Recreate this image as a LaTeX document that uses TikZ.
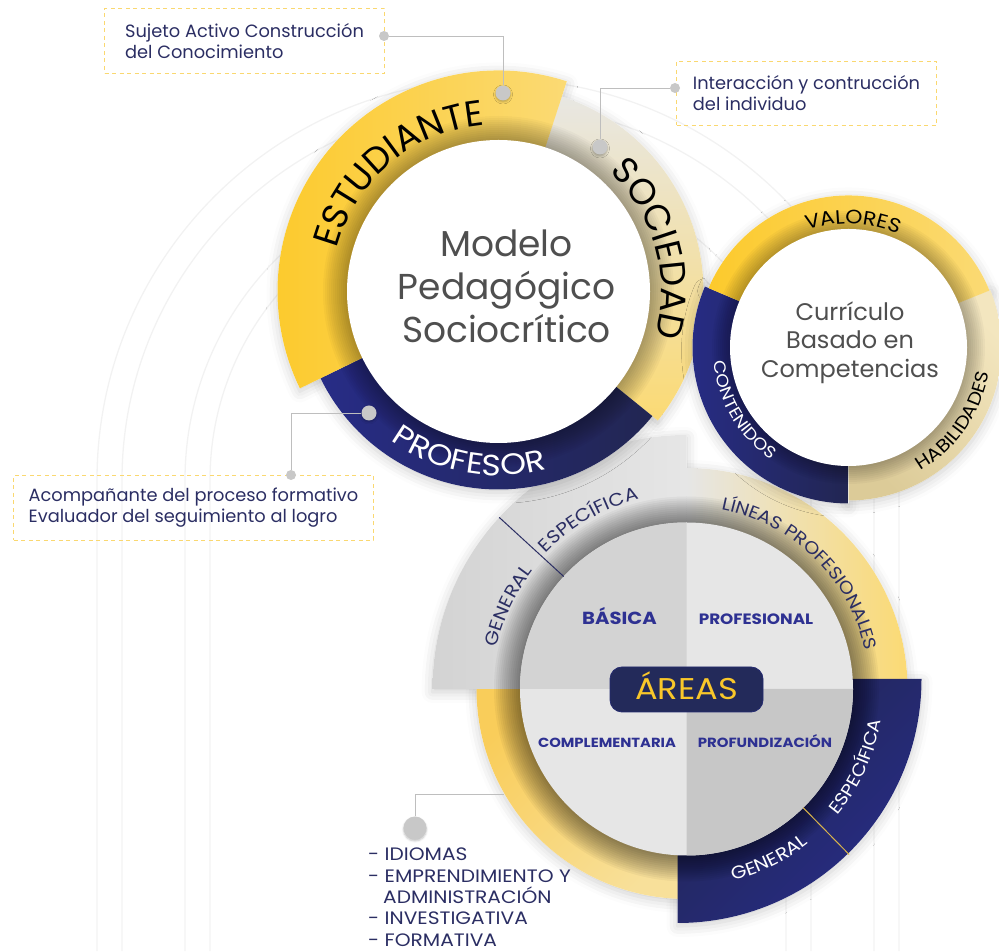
\documentclass[tikz,border=0pt]{standalone}
\usepackage{fontspec}
\setmainfont{Poppins}
\newfontfamily\capsfont{Poppins}[FakeStretch=1.12]
\usetikzlibrary{math}
\usetikzlibrary{positioning}
\usetikzlibrary{decorations.text}
\usetikzlibrary{shadows.blur}

\definecolor{amarillo}{HTML}{FCCA2C}
\definecolor{amarilloclaro}{HTML}{FBDA74}
\definecolor{amarillomedio}{HTML}{F9CD5A}
\definecolor{amarillopalido}{HTML}{F8E09A}
\definecolor{azul}{HTML}{272C86}
\definecolor{azuloscuro}{HTML}{222652}
\definecolor{cajaareas}{HTML}{232A5A}
\definecolor{grisclaro}{HTML}{E6E6E6}
\definecolor{grisanillo}{HTML}{E8E7E3}
\definecolor{grismedio}{HTML}{D3D3D3}
\definecolor{grisoscuro}{HTML}{C7C7C7}
\definecolor{beige}{HTML}{F3E6BF}
\definecolor{beigeoscuro}{HTML}{DCCB98}
\definecolor{tinta}{HTML}{2B2E63}
\definecolor{tintagris}{HTML}{4F4F4F}
\definecolor{etiqueta}{HTML}{2E3192}
\definecolor{oro}{HTML}{F9C72A}
\definecolor{lineaoro}{HTML}{D9B44A}
\definecolor{borde}{HTML}{FAD870}
\definecolor{linea}{HTML}{BEBEBE}
\definecolor{punto}{HTML}{C8C8C8}
\definecolor{marca}{HTML}{F2F2F2}

\tikzset{
  ringpart/.style n args={5}{insert path={([shift={(#2:#5)}]#1) arc[start angle=#2, end angle=#3, radius=#5] -- ([shift={(#3:#4)}]#1) arc[start angle=#3, end angle=#2, radius=#4] -- cycle}},
  textarc/.style n args={4}{insert path={([shift={(#2:#4)}]#1) arc[start angle=#2, end angle=#3, radius=#4]}},
  ringlabel/.style n args={3}{decorate, decoration={text along path, text align=center, text color=#2, text={|\fontsize{#1}{#1}\selectfont|#3}}},
  capslabel/.style n args={3}{decorate, decoration={text along path, text align=center, text color=#2, text={|\capsfont\fontsize{#1}{#1}\selectfont|#3}}},
  halo/.style={fill=white, blur shadow={shadow xshift=0pt, shadow yshift=-3pt, shadow blur radius=11pt, shadow opacity=20}},
  watermark/.style={draw=marca, line width=1.3pt},
  calloutbox/.style={draw=borde, dash pattern=on 4pt off 3.5pt, line width=1pt, align=left, text=tinta, font=\fontsize{17.8}{21}\selectfont, inner sep=0pt},
  smalldot/.style={circle, fill=punto, inner sep=0pt, minimum size=10pt},
  bigdot/.style={circle, fill=punto, inner sep=0pt, minimum size=15pt, blur shadow={shadow xshift=0pt, shadow yshift=-1.5pt, shadow blur radius=2pt, shadow opacity=25}},
  leader/.style={draw=linea, line width=0.9pt},
  quadlabel/.style={text=etiqueta, anchor=base},
}

\begin{document}
\begin{tikzpicture}[x=1pt, y=1pt]
	\tikzmath{\H=951;
	\mcx=498.5; \mcy=\H-291.5;
	\ccx=848.5; \ccy=\H-347.5;
	\acx=686.5; \acy=\H-689;
	\anx=677.5; \any=\H-679;
	\wmy=\H-480;}
	\useasboundingbox (0,0) rectangle (999,\H);
	\coordinate (mc) at (\mcx,\mcy);
	\coordinate (cc) at (\ccx,\ccy);
	\coordinate (ac) at (\acx,\acy);
	\coordinate (an) at (\anx,\any);

	\draw[watermark] (97,0) -- (97,\wmy) arc[start angle=180, end angle=0, radius=401] -- (899,0);
	\draw[watermark] (122,0) -- (122,\wmy) arc[start angle=180, end angle=0, radius=376] -- (874,0);
	\draw[watermark] (185,0) -- (185,\wmy) arc[start angle=180, end angle=0, radius=313] -- (811,0);
	\draw[watermark] (210,0) -- (210,\wmy) arc[start angle=180, end angle=0, radius=288] -- (786,0);

	\path[halo, ringpart={ac}{0}{90}{160}{221}];
	\path[halo, ringpart={ac}{180}{270}{160}{210}];
	\path[halo, ringpart={ac}{90}{180}{160}{254}];
	\path[halo, ringpart={an}{270}{360}{150}{244}];
	\path[left color=grisclaro, right color=amarilloclaro, ringpart={ac}{0}{90}{160}{221}];
	\path[top color=amarillomedio, bottom color=amarillopalido, shading angle=45, ringpart={ac}{180}{270}{160}{210}];
	\path[left color=grismedio, right color=grisclaro, ringpart={ac}{90}{180}{160}{254}];
	\path[top color=azuloscuro, bottom color=azul, shading angle=45, ringpart={an}{270}{360}{150}{244}];
	\foreach \k in {1,...,13} {\fill[black, opacity=0.04] (ac) circle[radius=166.5+2*\k];}
	\node[circle, minimum size=333, inner sep=0pt, fill=grisclaro] (areasdisk) at (ac) {};
	\fill[grismedio] (ac) -- ++(90:166.5) arc[start angle=90, end angle=180, radius=166.5] -- cycle;
	\fill[grisoscuro] (ac) -- ++(270:166.5) arc[start angle=270, end angle=360, radius=166.5] -- cycle;
	\draw[tinta, line width=1pt] ([shift={(137.5:166.5)}]ac) -- ([shift={(137.5:254)}]ac);
	\draw[lineaoro, line width=1pt] ([shift={(-45.5:166.5)}]ac) -- ([shift={(-45.5:232)}]ac);

	\node[quadlabel, font=\capsfont\bfseries\fontsize{17.5}{17.5}\selectfont] (basica) at (619.5, \H-625) {BÁSICA};
	\node[quadlabel, font=\capsfont\bfseries\fontsize{15}{15}\selectfont] (profesional) at (756, \H-625) {PROFESIONAL};
	\node[quadlabel, font=\capsfont\bfseries\fontsize{13.2}{13.2}\selectfont] (complementaria) at (607, \H-748) {COMPLEMENTARIA};
	\node[quadlabel, font=\capsfont\bfseries\fontsize{13.3}{13.3}\selectfont] (profundizacion) at (765, \H-748) {PROFUNDIZACIÓN};
	\node[fill=cajaareas, draw=azul!50!cajaareas, line width=0.8pt, rounded corners=12pt, minimum width=153, minimum height=45, text height=21, text depth=0, text=oro, font=\capsfont\fontsize{30}{30}\selectfont] (areas) at (686.5, \H-689.5) {ÁREAS};

	\path[halo, ringpart={mc}{-39}{72}{151}{205}];
	\path[halo, ringpart={mc}{206}{321}{151}{198}];
	\path[halo, ringpart={mc}{72}{206}{151}{221}];
	\path[top color=grisanillo, bottom color=amarilloclaro, ringpart={mc}{-39}{72}{151}{205}];
	\path[left color=azul, right color=azuloscuro, ringpart={mc}{206}{321}{151}{198}];
	\path[left color=amarillo, right color=amarilloclaro, ringpart={mc}{72}{206}{151}{221}];
	\foreach \k in {1,...,12} {\fill[black, opacity=0.028] (mc) circle[radius=151.5+2*\k];}
	\node[circle, minimum size=303, inner sep=0pt, fill=white] (modelo) at (mc) {};
	\node[text=tintagris, align=center, font=\fontsize{36}{43}\selectfont] (modelotxt) at ([xshift=8, yshift=5]mc) {Modelo\\Pedagógico\\Sociocrítico};

	\path[halo, ringpart={cc}{-90}{22}{118}{153}];
	\path[halo, ringpart={cc}{157}{270}{118}{156}];
	\path[halo, ringpart={cc}{22}{157}{118}{152}];
	\path[top color=beige, bottom color=beigeoscuro, shading angle=-45, ringpart={cc}{-90}{22}{118}{153}];
	\path[left color=azul, right color=azuloscuro, ringpart={cc}{157}{270}{118}{156}];
	\path[left color=amarillo, right color=amarilloclaro, ringpart={cc}{22}{157}{118}{152}];
	\foreach \k in {1,...,9} {\fill[black, opacity=0.03] (cc) circle[radius=118.5+2*\k];}
	\node[circle, minimum size=237, inner sep=0pt, fill=white] (curriculo) at (cc) {};
	\node[text=tintagris, align=center, font=\fontsize{24}{28.5}\selectfont] (curriculotxt) at ([xshift=1.5, yshift=5]cc) {Currículo\\Basado en\\Competencias};

	\path[ringlabel={36}{black}{ESTUDIANTE}, textarc={mc}{195}{65}{167}];
	\path[ringlabel={36}{black}{SOCIEDAD}, textarc={mc}{75}{-44}{163}];
	\path[capslabel={29.5}{white}{PROFESOR}, textarc={mc}{199.6}{319.6}{184}];
	\path[capslabel={19.5}{black}{{VA}LORES}, textarc={cc}{148}{28}{124}];
	\path[capslabel={18}{black}{HABILIDADES}, textarc={cc}{-95}{25}{143}];
	\path[capslabel={16.5}{white}{CONTENIDOS}, textarc={cc}{150.7}{270.7}{136}];
	\path[capslabel={18}{tinta}{ESPECÍFICA}, textarc={ac}{165}{75}{195.5}];
	\path[capslabel={18}{tinta}{GENERAL}, textarc={ac}{185}{125}{194}];
	\path[capslabel={17.5}{tinta}{LÍNEAS PROFESIONALES}, textarc={ac}{105}{-14}{183}];
	\path[capslabel={17.5}{white}{ESPECÍFICA}, textarc={ac}{-60}{11}{197}];
	\path[capslabel={18}{white}{GENERAL}, textarc={ac}{-94}{-34}{197}];

	\node[calloutbox, minimum width=280, minimum height=65, anchor=north west] (sujeto) at (104, \H-8) {Sujeto Activo Construcción\\del Conocimiento};
	\node[calloutbox, minimum width=260, minimum height=64, anchor=north west] (interaccion) at (676, \H-61) {Interacción y contrucción\\del individuo};
	\node[calloutbox, minimum width=360, minimum height=65, anchor=north west] (acompanante) at (13, \H-475) {Acompañante del proceso formativo\\Evaluador del seguimiento al logro};
	\node[text=tinta, align=left, anchor=north west, inner sep=0pt, font=\capsfont\fontsize{18}{21.3}\selectfont] (lista) at (368, \H-848) {- IDIOMAS\\- EMPRENDIMIENTO Y\\\hspace*{15pt}ADMINISTRACIÓN\\- INVESTIGATIVA\\- FORMATIVA};

	\node[smalldot] (d1a) at (384, \H-36) {};
	\node[bigdot] (d1b) at (503, \H-93) {};
	\node[smalldot] (d2a) at (675, \H-88) {};
	\node[bigdot] (d2b) at (600, \H-147) {};
	\node[bigdot] (d3b) at (369, \H-413) {};
	\node[smalldot] (d3a) at (291, \H-475) {};
	\node[bigdot, minimum size=23pt] (d4) at (415, \H-828) {};
	\coordinate (r4) at (504, \H-794);
	\draw[leader] (d1a) -| (d1b);
	\draw[leader] (d2a) -| (d2b);
	\draw[leader] (d3b) -| (d3a);
	\draw[leader] (d4) |- (r4);
\end{tikzpicture}
\end{document}
